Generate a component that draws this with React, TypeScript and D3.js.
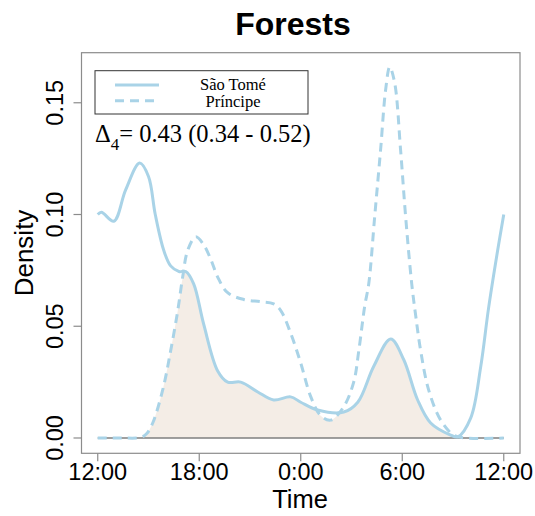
import React, { useEffect, useRef } from 'react';
import * as d3 from 'd3';

// hours since midnight, running 12:00 -> 12:00 next day
const saoTomeTime = [12, 12.22, 12.95, 13.65, 14.48, 15.0, 15.4, 15.9, 16.31, 16.8, 17.2, 17.67, 18.26, 19.09, 19.68, 20.45, 21.46, 22.4, 23.4, 24.0, 25.0, 26.54, 27.37, 28.31, 29.32, 30.09, 30.91, 31.68, 32.86, 33.28, 34.05, 34.64, 35.1, 35.64, 36];
const saoTomeDensity = [0.1, 0.101, 0.097, 0.111, 0.123, 0.117, 0.1, 0.084, 0.077, 0.0745, 0.0745, 0.069, 0.051, 0.03, 0.025, 0.025, 0.0206, 0.017, 0.0184, 0.016, 0.0125, 0.0116, 0.016, 0.032, 0.0443, 0.035, 0.017, 0.0067, 0.0013, 0.0005, 0.009, 0.032, 0.058, 0.084, 0.1];

const principeTime = [12, 13.36, 14.54, 14.9, 15.25, 15.84, 16.31, 16.73, 17.02, 17.32, 17.79, 18.26, 18.68, 19.09, 19.68, 20.63, 21.63, 22.4, 22.82, 23.4, 24.0, 24.59, 25.18, 25.77, 26.54, 27.13, 27.43, 27.78, 28.02, 28.37, 28.72, 29.02, 29.26, 29.55, 29.9, 30.2, 30.56, 30.79, 31.09, 31.56, 32.27, 33.04, 33.75, 36];
const principeDensity = [0, 0, 0.0003, 0.002, 0.0067, 0.0215, 0.039, 0.057, 0.072, 0.084, 0.09, 0.0865, 0.08, 0.072, 0.065, 0.062, 0.061, 0.06, 0.057, 0.047, 0.0335, 0.0185, 0.01, 0.008, 0.014, 0.025, 0.039, 0.059, 0.069, 0.099, 0.129, 0.156, 0.166, 0.159, 0.129, 0.099, 0.069, 0.055, 0.039, 0.0215, 0.008, 0.0013, 0, 0];

const xTicks = [12, 18, 24, 30, 36];
const xTickLabels = ['12:00', '18:00', '0:00', '6:00', '12:00'];
const yTicks = [0, 0.05, 0.1, 0.15];
const legendLabels = ['São Tomé', 'Príncipe'];
const overlapText = '= 0.43 (0.34 - 0.52)';

const lineColor = '#a9d3e7';
const fillColor = '#f4ede6';
const frameColor = '#8c8c8c';

export default function App() {
  const svgRef = useRef<SVGSVGElement>(null);

  useEffect(() => {
    const svg = d3.select(svgRef.current);
    svg.selectAll('*').remove();

    const left = 81.5, right = 520, top = 52.7, bottom = 453.3;
    const x = d3.scaleLinear().domain([11.04, 36.96]).range([left, right]);
    const y = d3.scaleLinear().domain([-0.00685, 0.1724]).range([bottom, top]);

    const st = saoTomeTime.map((t, i) => [t, saoTomeDensity[i]] as [number, number]);
    const pr = principeTime.map((t, i) => [t, principeDensity[i]] as [number, number]);

    const curve = d3.curveCatmullRom.alpha(0.5);
    const line = d3.line<[number, number]>().x(d => x(d[0])).y(d => y(d[1])).curve(curve);
    const area = d3.area<[number, number]>().x(d => x(d[0])).y0(y(0)).y1(d => y(d[1])).curve(curve);

    // overlap = area under solid clipped by area under dashed
    svg.append('clipPath').attr('id', 'clipPr')
      .append('path').attr('d', area(pr) as string);
    svg.append('path')
      .attr('d', area(st) as string)
      .attr('fill', fillColor)
      .attr('clip-path', 'url(#clipPr)');

    // baseline
    svg.append('line')
      .attr('x1', x(12)).attr('x2', x(36))
      .attr('y1', y(0)).attr('y2', y(0))
      .attr('stroke', '#7f7f7f').attr('stroke-width', 1.3);

    svg.append('path').attr('d', line(pr) as string)
      .attr('fill', 'none').attr('stroke', lineColor).attr('stroke-width', 3)
      .attr('stroke-dasharray', '9,6');
    svg.append('path').attr('d', line(st) as string)
      .attr('fill', 'none').attr('stroke', lineColor).attr('stroke-width', 3);

    // frame
    svg.append('rect')
      .attr('x', left).attr('y', top)
      .attr('width', right - left).attr('height', bottom - top)
      .attr('fill', 'none').attr('stroke', frameColor).attr('stroke-width', 1.2);

    const sans = 'Liberation Sans, Arial, sans-serif';
    const serif = 'Liberation Serif, Times New Roman, serif';

    // x axis
    const gx = svg.append('g');
    xTicks.forEach((t, i) => {
      gx.append('line').attr('x1', x(t)).attr('x2', x(t))
        .attr('y1', bottom).attr('y2', bottom + 8)
        .attr('stroke', frameColor).attr('stroke-width', 1.2);
      gx.append('text').attr('x', x(t)).attr('y', 480)
        .attr('text-anchor', 'middle').attr('font-family', sans).attr('font-size', 23.5)
        .text(xTickLabels[i]);
    });
    svg.append('text').attr('x', 300).attr('y', 508)
      .attr('text-anchor', 'middle').attr('font-family', sans).attr('font-size', 25.5)
      .text('Time');

    // y axis
    const gy = svg.append('g');
    yTicks.forEach(t => {
      gy.append('line').attr('x1', left).attr('x2', left - 8)
        .attr('y1', y(t)).attr('y2', y(t))
        .attr('stroke', frameColor).attr('stroke-width', 1.2);
      gy.append('text')
        .attr('transform', `translate(63,${y(t)}) rotate(-90)`)
        .attr('text-anchor', 'middle').attr('font-family', sans).attr('font-size', 23.5)
        .text(d3.format('.2f')(t));
    });
    svg.append('text')
      .attr('transform', `translate(33,${(top + bottom) / 2}) rotate(-90)`)
      .attr('text-anchor', 'middle').attr('font-family', sans).attr('font-size', 26)
      .text('Density');

    // title
    svg.append('text').attr('x', 293).attr('y', 35)
      .attr('text-anchor', 'middle').attr('font-family', sans).attr('font-size', 32)
      .attr('font-weight', 'bold').text('Forests');

    // legend
    const lg = svg.append('g');
    lg.append('rect').attr('x', 95).attr('y', 70.7).attr('width', 213).attr('height', 43.3)
      .attr('fill', 'white').attr('stroke', '#333').attr('stroke-width', 1);
    [85, 100.7].forEach((ly, i) => {
      lg.append('line').attr('x1', 115).attr('x2', 159).attr('y1', ly).attr('y2', ly)
        .attr('stroke', lineColor).attr('stroke-width', 3)
        .attr('stroke-dasharray', i === 1 ? '9,6' : null);
      lg.append('text').attr('x', 233).attr('y', i === 0 ? 89.5 : 106.5)
        .attr('text-anchor', 'middle').attr('font-family', serif).attr('font-size', 16.5)
        .text(legendLabels[i]);
    });

    const dt = svg.append('text').attr('x', 95).attr('y', 142)
      .attr('font-family', serif).attr('font-size', 24.5);
    dt.append('tspan').text('Δ');
    dt.append('tspan').attr('dy', 8).attr('font-size', 17).text('4');
    dt.append('tspan').attr('dy', -8).text(overlapText);
  }, []);

  return (
    <svg ref={svgRef} width={535} height={516}
      style={{ position: 'absolute', left: 0, top: 0, background: 'white' }} />
  );
}
